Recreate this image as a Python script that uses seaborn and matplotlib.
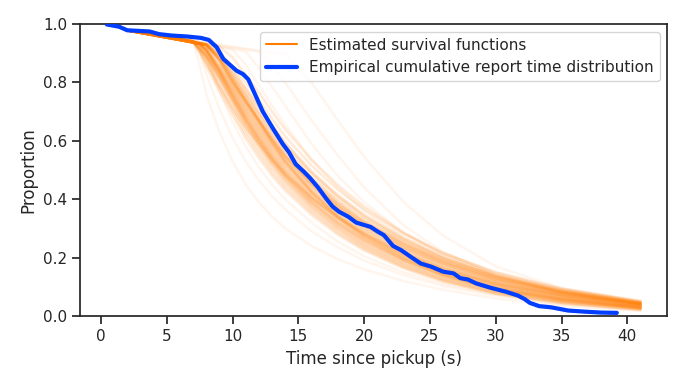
import matplotlib
matplotlib.use("Agg")
import matplotlib.pyplot as plt
from matplotlib.lines import Line2D
import pandas as pd
import seaborn as sns

# ---------------- data ----------------
curve_times = [2, 7, 7.5, 8, 9, 10, 11, 12, 13, 14, 16, 18, 20, 23, 26, 30, 35, 41]

main_curves = [
    [.978, .940, .905, .855, .770, .689, .609, .542, .481, .430, .347, .279, .225, .164, .118, .076, .045, .022],
    [.978, .940, .905, .865, .785, .702, .622, .555, .492, .440, .355, .285, .230, .167, .121, .078, .046, .023],
    [.978, .940, .910, .875, .795, .716, .636, .567, .504, .450, .362, .292, .235, .171, .124, .080, .048, .025],
    [.978, .940, .915, .885, .810, .730, .650, .580, .515, .460, .370, .298, .240, .175, .127, .083, .050, .026],
    [.978, .940, .916, .887, .813, .735, .656, .586, .521, .465, .375, .303, .244, .179, .130, .086, .052, .027],
    [.978, .940, .917, .889, .817, .739, .661, .591, .526, .471, .380, .308, .249, .183, .134, .088, .054, .028],
    [.978, .941, .918, .891, .821, .744, .666, .597, .532, .476, .385, .312, .254, .187, .137, .091, .055, .029],
    [.978, .941, .919, .893, .825, .748, .671, .602, .537, .481, .390, .317, .258, .191, .141, .093, .057, .030],
    [.978, .942, .920, .895, .829, .753, .676, .608, .543, .486, .395, .322, .263, .195, .144, .096, .059, .031],
    [.978, .937, .932, .908, .833, .757, .682, .613, .548, .492, .400, .327, .267, .199, .147, .099, .061, .032],
    [.978, .937, .932, .909, .836, .762, .687, .619, .554, .497, .405, .331, .272, .203, .151, .101, .063, .033],
    [.978, .937, .932, .910, .839, .766, .692, .624, .559, .502, .410, .336, .276, .207, .154, .104, .064, .034],
    [.978, .937, .932, .911, .842, .771, .697, .630, .565, .507, .415, .341, .281, .211, .158, .106, .066, .035],
    [.978, .937, .932, .912, .845, .775, .703, .635, .570, .513, .420, .346, .285, .215, .161, .109, .068, .036],
    [.978, .937, .932, .913, .848, .780, .708, .641, .576, .518, .425, .350, .290, .219, .164, .112, .070, .037],
    [.978, .937, .932, .914, .851, .784, .713, .646, .581, .523, .430, .355, .294, .223, .168, .114, .072, .038],
    [.978, .937, .932, .915, .854, .789, .718, .652, .587, .528, .435, .360, .299, .227, .171, .117, .073, .039],
    [.978, .937, .933, .928, .871, .793, .724, .657, .592, .534, .440, .365, .303, .231, .175, .119, .075, .040],
    [.978, .937, .933, .928, .874, .798, .729, .663, .598, .539, .445, .369, .308, .235, .178, .122, .077, .041],
    [.978, .937, .933, .928, .877, .802, .734, .668, .603, .544, .450, .374, .312, .239, .181, .125, .079, .042],
    [.978, .937, .933, .928, .880, .807, .739, .674, .609, .549, .455, .379, .317, .243, .185, .127, .081, .043],
    [.978, .937, .933, .928, .883, .811, .745, .679, .614, .555, .460, .384, .321, .247, .188, .130, .082, .044],
    [.978, .937, .933, .928, .889, .820, .755, .690, .625, .565, .470, .393, .330, .255, .195, .135, .086, .046],
    [.978, .937, .933, .929, .895, .838, .777, .715, .650, .590, .492, .413, .347, .268, .205, .142, .090, .049],
    [.978, .938, .934, .930, .900, .855, .800, .740, .675, .615, .515, .433, .365, .282, .215, .150, .095, .052],
    [.978, .940, .936, .931, .922, .885, .825, .765, .700, .640, .535, .448, .375, .285, .215, .148, .092, .050],
    [.978, .940, .910, .870, .785, .710, .645, .590, .535, .485, .405, .338, .280, .210, .157, .108, .070, .040],
    [.978, .937, .933, .928, .880, .810, .735, .665, .595, .530, .425, .338, .270, .195, .140, .090, .054, .027],
    [.978, .937, .932, .905, .840, .760, .680, .610, .545, .490, .405, .338, .283, .215, .163, .112, .072, .040],
    [.978, .937, .933, .928, .885, .820, .745, .670, .595, .530, .425, .343, .277, .202, .147, .097, .060, .031],
    [.978, .937, .932, .900, .835, .750, .670, .600, .535, .480, .390, .318, .260, .192, .140, .094, .058, .031],
    [.978, .937, .933, .928, .875, .805, .735, .670, .605, .547, .452, .373, .310, .236, .180, .124, .078, .041],
    [.978, .937, .933, .929, .892, .830, .765, .700, .638, .580, .483, .403, .338, .260, .198, .138, .087, .047],
    [.978, .938, .934, .930, .905, .845, .780, .715, .652, .593, .494, .411, .343, .262, .199, .137, .086, .046],
    [.978, .937, .933, .928, .885, .825, .760, .693, .628, .568, .470, .390, .325, .250, .190, .132, .083, .044],
    [.978, .937, .932, .912, .860, .800, .735, .670, .607, .550, .457, .382, .320, .247, .188, .131, .082, .044],
]

outlier_curves = [
    [.978, .940, .860, .760, .630, .530, .450, .390, .340, .300, .240, .195, .160, .120, .090, .060, .036, .017],
    [.978, .940, .900, .830, .710, .610, .530, .465, .410, .365, .290, .235, .190, .140, .103, .070, .040, .020],
    [.978, .937, .932, .890, .770, .665, .580, .510, .450, .400, .320, .255, .205, .150, .110, .074, .043, .021],
    [.978, .939, .935, .930, .921, .912, .860, .790, .720, .655, .535, .440, .360, .270, .200, .135, .080, .042],
    [.978, .940, .936, .932, .923, .914, .905, .850, .785, .720, .590, .480, .390, .285, .210, .140, .083, .043],
    [.978, .943, .940, .936, .929, .922, .915, .909, .903, .897, .800, .670, .545, .390, .275, .170, .095, .048],
    [.978, .941, .937, .934, .926, .919, .912, .905, .860, .800, .670, .550, .440, .310, .220, .140, .082, .042],
]

empirical_times = [0.45, 1.4, 2.0, 3.7, 4.4, 5.4, 6.5, 7.6, 8.2, 8.8, 9.3, 9.8, 10.3, 10.8,
                   11.2, 11.6, 11.9, 12.3, 12.7, 13.1, 13.8, 14.3, 14.8, 15.4, 15.9, 16.5,
                   17.1, 17.6, 18.1, 18.8, 19.4, 20.5, 21.0, 21.5, 22.2, 22.8, 23.6, 24.3,
                   25.1, 26.0, 26.8, 27.3, 27.9, 28.5, 29.6, 30.8, 31.7, 32.2, 32.6, 33.3,
                   34.2, 35.5, 36.8, 38.0, 39.2]
empirical_props = [0.998, 0.99, 0.978, 0.974, 0.965, 0.96, 0.957, 0.952, 0.945, 0.92, 0.88,
                   0.86, 0.84, 0.828, 0.81, 0.77, 0.74, 0.70, 0.67, 0.64, 0.59, 0.56, 0.52,
                   0.495, 0.472, 0.44, 0.403, 0.375, 0.357, 0.34, 0.32, 0.305, 0.29, 0.277,
                   0.24, 0.226, 0.201, 0.18, 0.169, 0.152, 0.146, 0.13, 0.125, 0.112, 0.097,
                   0.083, 0.07, 0.058, 0.045, 0.034, 0.03, 0.019, 0.015, 0.012, 0.011]

legend_labels = ["Estimated survival functions", "Empirical cumulative report time distribution"]
x_label = "Time since pickup (s)"
y_label = "Proportion"

# ---------------- style ----------------
ORANGE = "#ff7c00"
BLUE = "#023eff"

sns.set_theme(style="ticks", context="notebook")
plt.rcParams["font.family"] = ["DejaVu Sans"]


def to_long(curves, offset=0):
    rows = []
    for i, vals in enumerate(curves):
        for t, s in zip(curve_times, vals):
            rows.append((i + offset, t, s))
    return pd.DataFrame(rows, columns=["curve", "t", "s"])


fig, ax = plt.subplots(figsize=(6.85, 3.85), dpi=100)
fig.subplots_adjust(left=0.117, right=0.974, top=0.938, bottom=0.179)

sns.lineplot(data=to_long(outlier_curves, 100), x="t", y="s", units="curve",
             estimator=None, color=ORANGE, alpha=0.07, lw=1.8, ax=ax, legend=False)
sns.lineplot(data=to_long(main_curves), x="t", y="s", units="curve",
             estimator=None, color=ORANGE, alpha=0.15, lw=2.0, ax=ax, legend=False)

emp = pd.DataFrame({"t": empirical_times, "s": empirical_props})
sns.lineplot(data=emp, x="t", y="s", estimator=None, sort=False,
             color=BLUE, lw=3, ax=ax, legend=False, zorder=5)

ax.set_ylim(0, 1)
ax.set_xlabel(x_label)
ax.set_ylabel(y_label)

handles = [Line2D([], [], color=ORANGE, lw=1.5), Line2D([], [], color=BLUE, lw=3)]
ax.legend(handles, legend_labels, loc="upper right")

fig.savefig("out.png", dpi=100)
